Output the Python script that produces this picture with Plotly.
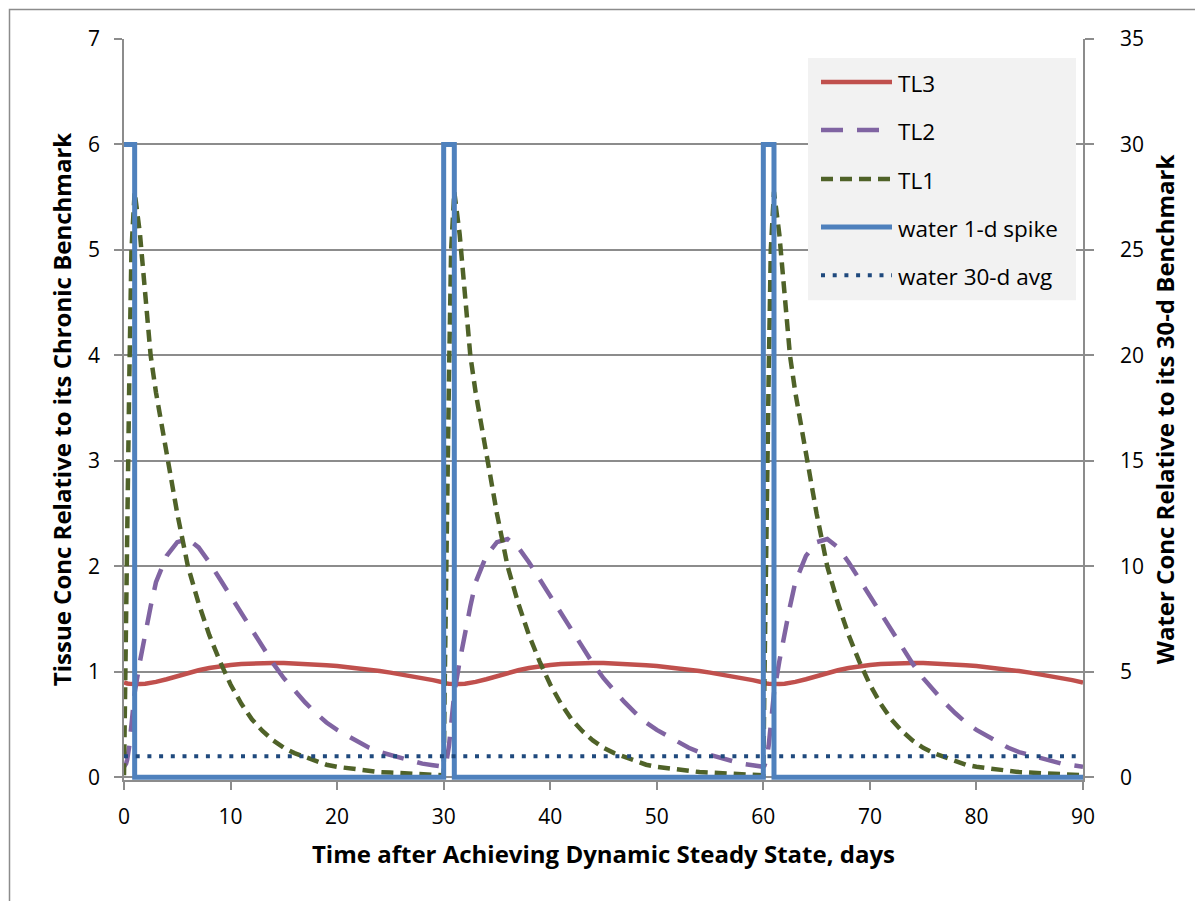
import plotly.graph_objects as go

# ---------------- data ----------------
days = [
    0, 0.1, 0.2, 0.3, 0.5, 0.7, 1, 1.5, 2, 2.5, 3, 4, 5, 6, 7, 8, 9, 10, 11, 12, 13, 14, 15,
    16, 17, 18, 19, 20, 21, 22, 23, 24, 25, 26, 27, 28, 29,
    30, 30.1, 30.2, 30.3, 30.5, 30.7, 31, 31.5, 32, 32.5, 33, 34, 35, 36, 37, 38, 39, 40, 41, 42, 43, 44, 45,
    46, 47, 48, 49, 50, 51, 52, 53, 54, 55, 56, 57, 58, 59,
    60, 60.1, 60.2, 60.3, 60.5, 60.7, 61, 61.5, 62, 62.5, 63, 64, 65, 66, 67, 68, 69, 70, 71, 72, 73, 74, 75,
    76, 77, 78, 79, 80, 81, 82, 83, 84, 85, 86, 87, 88, 89,
    90,
]

tl3 = [
    0.90, 0.895, 0.892, 0.89, 0.887, 0.885, 0.884, 0.885, 0.888, 0.895, 0.905, 0.93, 0.96, 0.99, 1.015,
    1.037, 1.053, 1.065, 1.074, 1.08, 1.084, 1.085, 1.084, 1.081, 1.076, 1.07, 1.063, 1.055, 1.045,
    1.034, 1.022, 1.008, 0.993, 0.977, 0.96, 0.942, 0.922,
    0.90, 0.895, 0.892, 0.89, 0.887, 0.885, 0.884, 0.885, 0.888, 0.895, 0.905, 0.93, 0.96, 0.99, 1.015,
    1.037, 1.053, 1.065, 1.074, 1.08, 1.084, 1.085, 1.084, 1.081, 1.076, 1.07, 1.063, 1.055, 1.045,
    1.034, 1.022, 1.008, 0.993, 0.977, 0.96, 0.942, 0.922,
    0.90, 0.895, 0.892, 0.89, 0.887, 0.885, 0.884, 0.885, 0.888, 0.895, 0.905, 0.93, 0.96, 0.99, 1.015,
    1.037, 1.053, 1.065, 1.074, 1.08, 1.084, 1.085, 1.084, 1.081, 1.076, 1.07, 1.063, 1.055, 1.045,
    1.034, 1.022, 1.008, 0.993, 0.977, 0.96, 0.942, 0.922,
    0.90,
]

tl2 = [
    0.10, 0.11, 0.13, 0.17, 0.30, 0.50, 0.80, 1.10, 1.38, 1.62, 1.85, 2.10, 2.23, 2.26, 2.18, 2.04,
    1.88, 1.72, 1.56, 1.40, 1.23, 1.08, 0.94, 0.82, 0.71, 0.61, 0.52, 0.45, 0.39, 0.33, 0.28, 0.24,
    0.21, 0.18, 0.15, 0.13, 0.115,
    0.10, 0.11, 0.13, 0.17, 0.30, 0.50, 0.80, 1.10, 1.38, 1.62, 1.85, 2.10, 2.23, 2.26, 2.18, 2.04,
    1.88, 1.72, 1.56, 1.40, 1.23, 1.08, 0.94, 0.82, 0.71, 0.61, 0.52, 0.45, 0.39, 0.33, 0.28, 0.24,
    0.21, 0.18, 0.15, 0.13, 0.115,
    0.10, 0.11, 0.13, 0.17, 0.30, 0.50, 0.80, 1.10, 1.38, 1.62, 1.85, 2.10, 2.23, 2.26, 2.18, 2.04,
    1.88, 1.72, 1.56, 1.40, 1.23, 1.08, 0.94, 0.82, 0.71, 0.61, 0.52, 0.45, 0.39, 0.33, 0.28, 0.24,
    0.21, 0.18, 0.15, 0.13, 0.115,
    0.10,
]

tl1 = [
    0.02, 0.90, 1.80, 2.60, 3.80, 5.00, 5.55, 5.15, 4.60, 4.00, 3.65, 3.05, 2.50, 2.00, 1.65, 1.35,
    1.10, 0.88, 0.70, 0.55, 0.44, 0.35, 0.28, 0.23, 0.19, 0.15, 0.12, 0.10, 0.085, 0.07, 0.06, 0.05,
    0.045, 0.04, 0.035, 0.03, 0.025,
    0.02, 0.90, 1.80, 2.60, 3.80, 5.00, 5.55, 5.15, 4.60, 4.00, 3.65, 3.05, 2.50, 2.00, 1.65, 1.35,
    1.10, 0.88, 0.70, 0.55, 0.44, 0.35, 0.28, 0.23, 0.19, 0.15, 0.12, 0.10, 0.085, 0.07, 0.06, 0.05,
    0.045, 0.04, 0.035, 0.03, 0.025,
    0.02, 0.90, 1.80, 2.60, 3.80, 5.00, 5.55, 5.15, 4.60, 4.00, 3.65, 3.05, 2.50, 2.00, 1.65, 1.35,
    1.10, 0.88, 0.70, 0.55, 0.44, 0.35, 0.28, 0.23, 0.19, 0.15, 0.12, 0.10, 0.085, 0.07, 0.06, 0.05,
    0.045, 0.04, 0.035, 0.03, 0.025,
    0.02,
]

spike_days = [0, 1, 1, 30, 30, 31, 31, 60, 60, 61, 61, 90]
spike_water = [30, 30, 0, 0, 30, 30, 0, 0, 30, 30, 0, 0]

avg_days = [0, 90]
avg_water = [1, 1]

series_names = ["TL3", "TL2", "TL1", "water 1-d spike", "water 30-d avg"]
x_ticks = [0, 10, 20, 30, 40, 50, 60, 70, 80, 90]
left_ticks = [0, 1, 2, 3, 4, 5, 6, 7]
right_ticks = [0, 5, 10, 15, 20, 25, 30, 35]

x_title = "Time after Achieving Dynamic Steady State, days"
y_title = "Tissue Conc Relative to its Chronic Benchmark"
y2_title = "Water Conc Relative to its 30-d Benchmark"

# ---------------- styles ----------------
FONT = "Open Sans"
RED = "#C0504D"
PURPLE = "#8064A2"
GREEN = "#4F6228"
BLUE = "#4F81BD"
NAVY = "#1F497D"
AXIS_GRAY = "#8C8C8C"
LW = 4.5

styles = [
    dict(color=RED, width=LW, dash="solid"),
    dict(color=PURPLE, width=LW, dash="22px,14px"),
    dict(color=GREEN, width=LW, dash="12px,7px"),
    dict(color=BLUE, width=LW + 0.5, dash="solid"),
    dict(color=NAVY, width=4, dash="4px,7.7px"),
]

fig = go.Figure()
fig.add_trace(go.Scatter(x=days, y=tl3, mode="lines", name=series_names[0],
                         line=styles[0], yaxis="y"))
fig.add_trace(go.Scatter(x=days, y=tl2, mode="lines", name=series_names[1],
                         line=styles[1], yaxis="y"))
fig.add_trace(go.Scatter(x=days, y=tl1, mode="lines", name=series_names[2],
                         line=styles[2], yaxis="y"))
fig.add_trace(go.Scatter(x=spike_days, y=spike_water, mode="lines", name=series_names[3],
                         line=styles[3], yaxis="y2"))
fig.add_trace(go.Scatter(x=avg_days, y=avg_water, mode="lines", name=series_names[4],
                         line=styles[4], yaxis="y2"))

# ---------------- layout ----------------
OFF = 8                 # page body margin offset
W, H = 1203 - OFF, 901 - OFF
L, R, T = 116, 120, 31
y_lo = -0.025           # small pad so the 0-level line is not clipped
y2_lo = y_lo * 5
B = 121.4

tick_font = dict(family=FONT, size=21, color="black")
title_font = dict(family=FONT, size=24, color="black", weight="bold")

fig.update_layout(
    width=W, height=H,
    margin=dict(l=L, r=R, t=T, b=B, pad=0),
    paper_bgcolor="white", plot_bgcolor="white",
    showlegend=False,
    font=dict(family=FONT, size=21, color="black"),
    xaxis=dict(
        range=[0, 90], tickvals=x_ticks, ticks="outside", ticklen=8, tickwidth=1.5,
        tickcolor=AXIS_GRAY, showline=True, linecolor=AXIS_GRAY, linewidth=1.5,
        showgrid=False, zeroline=False, tickfont=tick_font, ticklabelstandoff=9,
        title=dict(text=x_title, font=title_font, standoff=17), layer="below traces",
    ),
    yaxis=dict(
        range=[y_lo, 7], tickvals=left_ticks, ticks="outside", ticklen=8, tickwidth=1.5,
        tickcolor=AXIS_GRAY, showline=True, linecolor=AXIS_GRAY, linewidth=1.5,
        showgrid=True, gridcolor=AXIS_GRAY, gridwidth=1.5, zeroline=False,
        tickfont=tick_font, ticklabelstandoff=10,
        title=dict(text=y_title, font=title_font, standoff=10), layer="below traces",
    ),
    yaxis2=dict(
        range=[y2_lo, 35], tickvals=right_ticks, overlaying="y", side="right",
        ticks="outside", ticklen=9, tickwidth=1.5, tickcolor=AXIS_GRAY,
        showline=True, linecolor=AXIS_GRAY, linewidth=1.5, showgrid=False, zeroline=False,
        tickfont=tick_font, ticklabelstandoff=22,
        title=dict(text=y2_title, font=title_font, standoff=14), layer="below traces",
    ),
)

plot_w = W - L - R
plot_h = H - T - B
def px(xs):
    return (xs - OFF - L) / plot_w
def py(ys):
    return (H - B - (ys - OFF)) / plot_h

shapes = []
# outer chart border
shapes.append(dict(type="rect", xref="paper", yref="paper",
                   x0=px(9.5), x1=px(1220), y0=py(918), y1=py(9.5),
                   line=dict(color=AXIS_GRAY, width=1.5), fillcolor="rgba(0,0,0,0)", layer="below"))
# legend box
shapes.append(dict(type="rect", xref="paper", yref="paper",
                   x0=px(808), x1=px(1076), y0=py(300), y1=py(58),
                   line=dict(width=0), fillcolor="#F2F2F2", layer="above"))
annotations = []
item_y = [82, 130, 179, 227, 275]
for name, st, yy in zip(series_names, styles, item_y):
    shapes.append(dict(type="line", xref="paper", yref="paper",
                       x0=px(821), x1=px(892), y0=py(yy), y1=py(yy),
                       line=dict(color=st["color"], width=st["width"], dash=st["dash"]),
                       layer="above"))
    annotations.append(dict(xref="paper", yref="paper", x=px(896), y=py(yy + 1),
                            xanchor="left", yanchor="middle", showarrow=False,
                            text=name, font=dict(family=FONT, size=22.5, color="black")))

fig.update_layout(shapes=shapes, annotations=annotations)

fig.write_html("out.html", config={"displayModeBar": False})
